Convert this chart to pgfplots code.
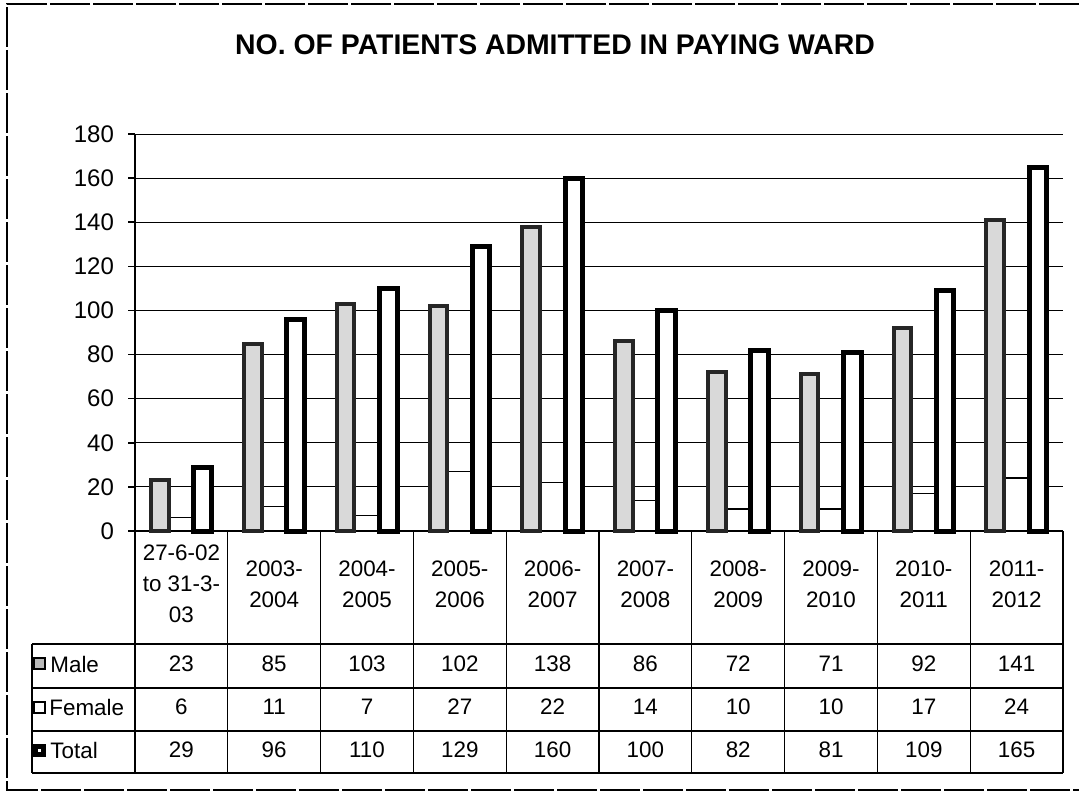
\documentclass[border=0pt]{standalone}
\usepackage{fontspec}
\setmainfont{Liberation Sans}
\usepackage{pgfplots}
\pgfplotsset{compat=1.18}

\begin{document}
\begin{tikzpicture}
% page = 1079 x 797 px, 1 px = 0.5pt, y downwards in the px scope
\useasboundingbox (0,0) rectangle (539.5pt,-398.5pt);

\begin{axis}[
  at={(67.5pt,-265.5pt)}, anchor=south west,
  scale only axis, width=464pt, height=198.5pt,
  xmin=-0.5, xmax=9.5, ymin=0, ymax=180,
  ytick={0,20,...,180}, xtick=\empty,
  axis x line*=bottom, axis y line*=left,
  axis line style={black, line width=0.8pt},
  ymajorgrids, grid style={black, line width=0.5pt},
  tick align=outside, major tick length=3.5pt,
  tick style={black, line width=0.8pt},
  y tick label style={font=\fontsize{12}{14}\selectfont, xshift=-3.5pt},
  /pgf/number format/assume math mode=true,
  ybar, clip=false,
]
% Female
\addplot[bar shift=0, bar width=0.27, fill=white, draw=black, line width=0.6pt]
  coordinates {(0,6) (1,11) (2,7) (3,27) (4,22) (5,14) (6,10) (7,10) (8,17) (9,24)};
% Male
\addplot[bar shift=-0.23, bar width=0.19, fill=gray!30, draw=black!85, line width=2pt]
  coordinates {(0,23) (1,85) (2,103) (3,102) (4,138) (5,86) (6,72) (7,71) (8,92) (9,141)};
% Total
\addplot[bar shift=0.23, bar width=0.19, fill=white, draw=black, line width=2.5pt]
  coordinates {(0,29) (1,96) (2,110) (3,129) (4,160) (5,100) (6,82) (7,81) (8,109) (9,165)};
\end{axis}

\begin{scope}[x=0.5pt, y=-0.5pt]
  % outer frame
  \draw[black, line width=0.6pt, dash pattern=on 20pt off 1.5pt]
    (1079,4) -- (7,4) -- (7,790) -- (1079,790);
  % title
  \node[font=\fontsize{14.2}{17}\selectfont\bfseries] at (555,45)
    {NO. OF PATIENTS ADMITTED IN PAYING WARD};
  % data table
  \begin{scope}[black, line width=0.6pt]
    \foreach \yy in {644,688,731,773} \draw (32,\yy) -- (1063,\yy);
    \draw (32,644) -- (32,773);
    \foreach \i in {0,...,10} \draw (135+92.8*\i,531) -- (135+92.8*\i,773);
  \end{scope}
  \foreach \lab [count=\i from 0] in {{27-6-02\\to 31-3-\\03},{2003-\\2004},
      {2004-\\2005},{2005-\\2006},{2006-\\2007},{2007-\\2008},{2008-\\2009},
      {2009-\\2010},{2010-\\2011},{2011-\\2012}}
    \node[align=center, font=\fontsize{11.2}{15.5}\selectfont]
      at (181.4+92.8*\i,584) {\lab};
  \foreach \m/\f/\t [count=\i from 0] in {23/6/29,85/11/96,103/7/110,
      102/27/129,138/22/160,86/14/100,72/10/82,71/10/81,92/17/109,141/24/165} {
    \node[font=\fontsize{11.2}{13}\selectfont] at (181.4+92.8*\i,664) {\m};
    \node[font=\fontsize{11.2}{13}\selectfont] at (181.4+92.8*\i,707) {\f};
    \node[font=\fontsize{11.2}{13}\selectfont] at (181.4+92.8*\i,750) {\t};
  }
  % row keys
  \draw[fill=gray!55, line width=0.6pt] (34,658) rectangle (45,669);
  \draw[fill=white, line width=0.6pt] (34,702) rectangle (45,713);
  \draw[fill=black, line width=0.6pt] (34,745) rectangle (45,756);
  \fill[white] (38,749) rectangle (41,752);
  \node[anchor=west, font=\fontsize{11.2}{13}\selectfont, inner sep=0] at (50,664) {Male};
  \node[anchor=west, font=\fontsize{11.2}{13}\selectfont, inner sep=0] at (49,707) {Female};
  \node[anchor=west, font=\fontsize{11.2}{13}\selectfont, inner sep=0] at (50,750) {Total};
\end{scope}
\end{tikzpicture}
\end{document}
